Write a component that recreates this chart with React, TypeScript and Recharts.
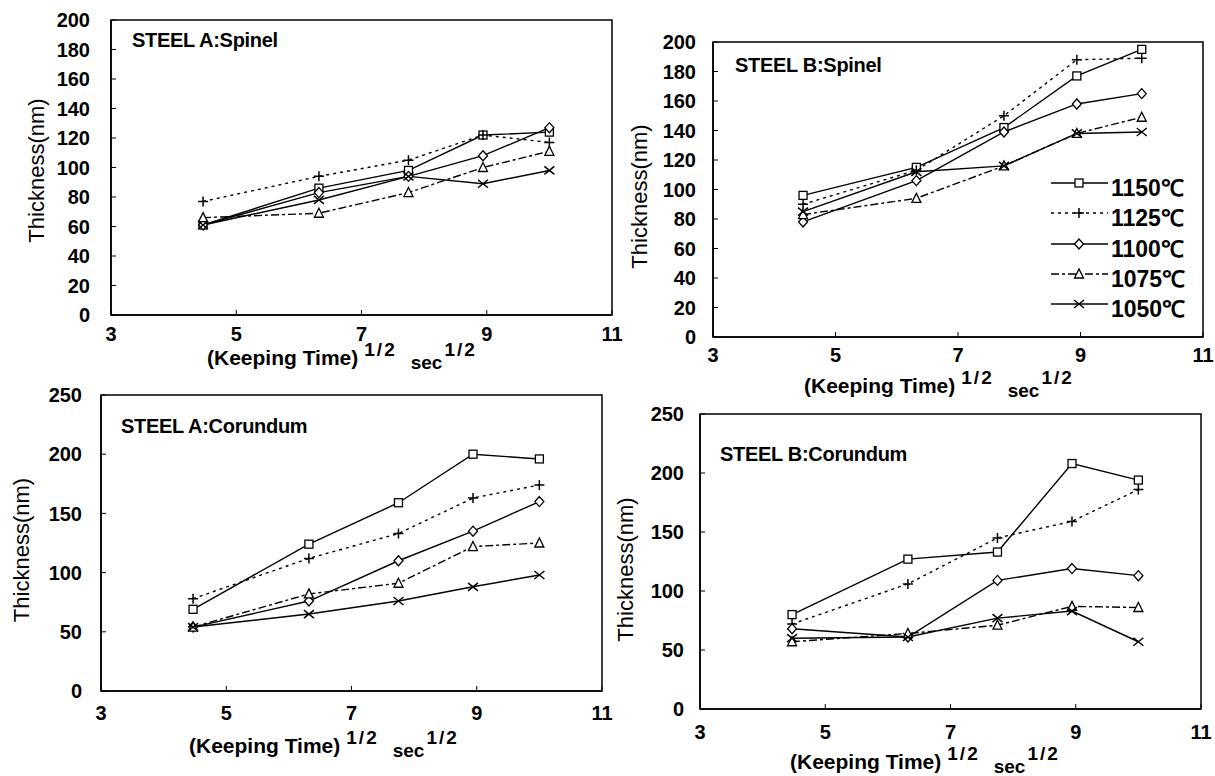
import { LineChart, Line, XAxis, YAxis, ReferenceArea, Legend, Label } from 'recharts'

// keeping time^(1/2), sec^(1/2)
const xValues = [4.47, 6.32, 7.75, 8.94, 10]
const temps = ['1150℃', '1125℃', '1100℃', '1075℃', '1050℃']
const xTicks = [3, 5, 7, 9, 11]
const spinelTicks = [0, 20, 40, 60, 80, 100, 120, 140, 160, 180, 200]
const corundumTicks = [0, 50, 100, 150, 200, 250]

// rows follow temps: 1150, 1125, 1100, 1075, 1050
const steelASpinel = [
  [61, 86, 98, 122, 124],
  [77, 94, 105, 122, 117],
  [61, 83, 94, 108, 127],
  [66, 69, 83, 100, 111],
  [61, 78, 94, 89, 98],
]
const steelBSpinel = [
  [96, 115, 142, 177, 195],
  [90, 113, 150, 188, 189],
  [78, 106, 139, 158, 165],
  [83, 94, 116, 138, 149],
  [85, 112, 116, 138, 139],
]
const steelACorundum = [
  [69, 124, 159, 200, 196],
  [78, 112, 133, 163, 174],
  [54, 76, 110, 135, 160],
  [54, 82, 91, 122, 125],
  [54, 65, 76, 88, 98],
]
const steelBCorundum = [
  [80, 127, 133, 208, 194],
  [72, 106, 145, 159, 186],
  [68, 61, 109, 119, 113],
  [57, 64, 71, 87, 86],
  [60, 61, 77, 83, 57],
]

const seriesStyle = [
  { shape: 'square', dash: undefined },
  { shape: 'plus', dash: '3 4' },
  { shape: 'diamond', dash: undefined },
  { shape: 'triangle', dash: '8 3 3 3' },
  { shape: 'cross', dash: undefined },
]

const font = '"Liberation Sans", Arial, Helvetica, sans-serif'

function Marker({ shape, cx, cy }: any) {
  if (cx == null || cy == null) return null
  const sw = 1.3
  switch (shape) {
    case 'square':
      return <rect x={cx - 4} y={cy - 4} width={8} height={8} fill="#fff" stroke="#000" strokeWidth={sw} />
    case 'plus':
      return <path d={`M${cx - 5},${cy}H${cx + 5}M${cx},${cy - 5}V${cy + 5}`} stroke="#000" strokeWidth={1.5} fill="none" />
    case 'diamond':
      return <path d={`M${cx},${cy - 5}L${cx + 4.5},${cy}L${cx},${cy + 5}L${cx - 4.5},${cy}Z`} fill="#fff" stroke="#000" strokeWidth={sw} />
    case 'triangle':
      return <path d={`M${cx},${cy - 5}L${cx + 4.5},${cy + 4}L${cx - 4.5},${cy + 4}Z`} fill="#fff" stroke="#000" strokeWidth={sw} />
    default:
      return <path d={`M${cx - 5},${cy - 4}L${cx + 5},${cy + 4}M${cx - 5},${cy + 4}L${cx + 5},${cy - 4}`} stroke="#000" strokeWidth={1.5} fill="none" />
  }
}

function LegendBox() {
  return (
    <div style={{ display: 'flex', flexDirection: 'column', fontFamily: font }}>
      {temps.map((t, i) => (
        <div key={t} style={{ display: 'flex', alignItems: 'center', height: 30.3 }}>
          <svg width={57} height={16}>
            <line x1={0} y1={8} x2={57} y2={8} stroke="#000" strokeWidth={1.4} strokeDasharray={seriesStyle[i].dash} />
            <Marker shape={seriesStyle[i].shape} cx={28} cy={8} />
          </svg>
          <span style={{ fontSize: 23, fontWeight: 700, marginLeft: 3, position: 'relative', top: 4, color: '#000' }}>{t}</span>
        </div>
      ))}
    </div>
  )
}

type Panel = {
  title: string
  values: number[][]
  yMax: number
  yTicks: number[]
  x0: number
  y0: number
  w: number
  h: number
  top: number
  right: number
  yW: number
  xH: number
  yTickMargin: number
  xTickMargin: number
  yTitleX: number
  yTitleDy: number
  xLabelDx: number
  xLabelDy: number
  titleDx: number
  titleDy: number
  legend?: boolean
}

const panels: Panel[] = [
  {
    title: 'STEEL A:Spinel', values: steelASpinel, yMax: 200, yTicks: spinelTicks,
    x0: 0, y0: 0, w: 640, h: 380, top: 20, right: 28, yW: 111, xH: 65,
    yTickMargin: 26, xTickMargin: 17, yTitleX: 36, yTitleDy: 3,
    xLabelDx: 96, xLabelDy: 50, titleDx: 21, titleDy: 27,
  },
  {
    title: 'STEEL B:Spinel', values: steelBSpinel, yMax: 200, yTicks: spinelTicks,
    x0: 615, y0: 0, w: 600, h: 400, top: 42, right: 12, yW: 98, xH: 63,
    yTickMargin: 22, xTickMargin: 16, yTitleX: 24, yTitleDy: 7,
    xLabelDx: 91, xLabelDy: 56, titleDx: 22, titleDy: 30, legend: true,
  },
  {
    title: 'STEEL A:Corundum', values: steelACorundum, yMax: 250, yTicks: corundumTicks,
    x0: 0, y0: 380, w: 630, h: 396, top: 15, right: 28, yW: 101, xH: 85,
    yTickMargin: 24, xTickMargin: 20, yTitleX: 21, yTitleDy: 7,
    xLabelDx: 88, xLabelDy: 62, titleDx: 20, titleDy: 38,
  },
  {
    title: 'STEEL B:Corundum', values: steelBCorundum, yMax: 250, yTicks: corundumTicks,
    x0: 610, y0: 380, w: 605, h: 396, top: 34, right: 14, yW: 90, xH: 67,
    yTickMargin: 21, xTickMargin: 21, yTitleX: 15, yTitleDy: 8,
    xLabelDx: 90, xLabelDy: 60, titleDx: 20, titleDy: 47,
  },
]

const tickStyle = { fontSize: 20, fontWeight: 700, fill: '#000' }

function OxidePanel({ p }: { p: Panel }) {
  const data = xValues.map((x, i) => {
    const row: Record<string, number> = { x }
    p.values.forEach((s, k) => { row['s' + k] = s[i] })
    return row
  })

  return (
    <div style={{ position: 'absolute', left: p.x0, top: p.y0 }}>
      <LineChart width={p.w} height={p.h} data={data} margin={{ top: p.top, right: p.right, left: 0, bottom: 0 }}>
        <XAxis
          type="number"
          dataKey="x"
          domain={[3, 11]}
          ticks={xTicks}
          interval={0}
          height={p.xH}
          tick={tickStyle}
          tickSize={-5}
          tickMargin={p.xTickMargin}
          axisLine={{ stroke: '#000', strokeWidth: 1.5 }}
          tickLine={{ stroke: '#000' }}
        >
          <Label
            content={(lp: any) => {
              const vb = lp.viewBox || {}
              return (
                <text x={vb.x + p.xLabelDx} y={vb.y + p.xLabelDy} fontWeight={700} fill="#000" fontFamily={font}>
                  <tspan fontSize={21}>(Keeping Time)</tspan>
                  <tspan fontSize={19} dx={6} dy={-9} letterSpacing={2}>1/2</tspan>
                  <tspan fontSize={19} dx={14} dy={13}>sec</tspan>
                  <tspan fontSize={19} dx={2} dy={-13} letterSpacing={2}>1/2</tspan>
                </text>
              )
            }}
          />
        </XAxis>
        <YAxis
          type="number"
          domain={[0, p.yMax]}
          ticks={p.yTicks}
          interval={0}
          width={p.yW}
          tick={tickStyle}
          tickSize={-5}
          tickMargin={p.yTickMargin}
          axisLine={{ stroke: '#000', strokeWidth: 1.5 }}
          tickLine={{ stroke: '#000' }}
        >
          <Label
            content={(lp: any) => {
              const vb = lp.viewBox || {}
              const cx = p.yTitleX
              const cy = vb.y + vb.height / 2 + p.yTitleDy
              return (
                <text x={cx} y={cy} transform={`rotate(-90 ${cx} ${cy})`} textAnchor="middle" dominantBaseline="central" fontSize={22} fill="#000" fontFamily={font}>
                  Thickness(nm)
                </text>
              )
            }}
          />
        </YAxis>
        <ReferenceArea
          x1={3}
          x2={11}
          y1={0}
          y2={p.yMax}
          fill="none"
          fillOpacity={0}
          stroke="#000"
          strokeWidth={1.5}
          ifOverflow="visible"
          label={(lp: any) => {
            const vb = lp.viewBox || {}
            return (
              <text x={vb.x + p.titleDx} y={vb.y + p.titleDy} fontSize={20} fontWeight={700} fill="#000" fontFamily={font} letterSpacing={-0.3}>
                {p.title}
              </text>
            )
          }}
        />
        {seriesStyle.map((st, k) => (
          <Line
            key={k}
            type="linear"
            dataKey={'s' + k}
            name={temps[k]}
            stroke="#000"
            strokeWidth={1.4}
            strokeDasharray={st.dash}
            isAnimationActive={false}
            dot={(dp: any) => <Marker key={'d' + k + '-' + dp.index} shape={st.shape} cx={dp.cx} cy={dp.cy} />}
            activeDot={false}
          />
        ))}
        {p.legend && (
          <Legend
            layout="horizontal"
            verticalAlign="middle"
            align="center"
            content={() => <LegendBox />}
            wrapperStyle={{ left: 436, top: 168, width: 160 }}
          />
        )}
      </LineChart>
    </div>
  )
}

export default function App() {
  return (
    <div style={{ position: 'absolute', left: 0, top: 0, width: 1215, height: 776, background: '#fff', fontFamily: font, overflow: 'hidden' }}>
      {panels.map((p) => (
        <OxidePanel key={p.title} p={p} />
      ))}
    </div>
  )
}
